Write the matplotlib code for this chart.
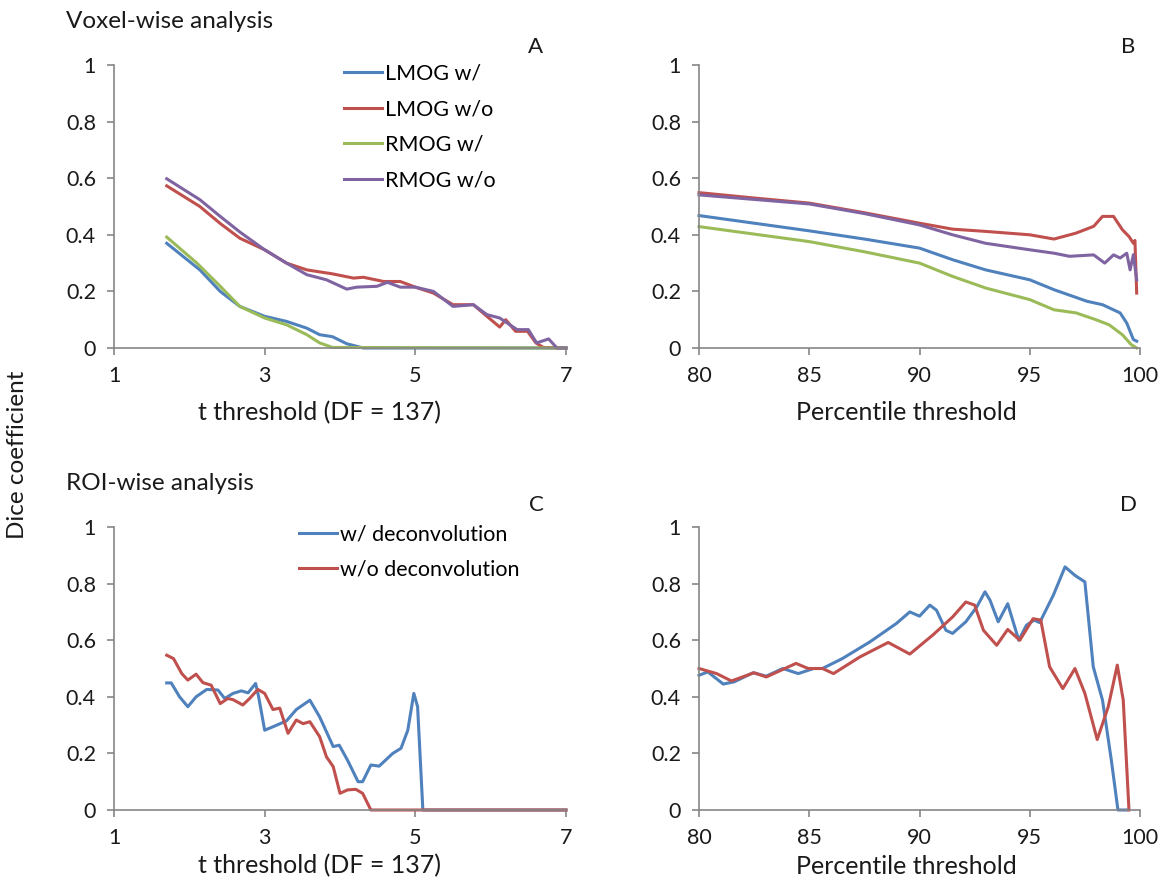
import matplotlib
matplotlib.use('Agg')
import matplotlib.pyplot as plt

plt.rcParams['font.family'] = ['Lato', 'DejaVu Sans']

# Panel A: voxel-wise, t threshold
lmog_w_t = [1.70, 2.14, 2.41, 2.67, 3.0, 3.29, 3.56, 3.73, 3.9, 4.09, 4.31, 7.0]
lmog_w = [0.37, 0.276, 0.2, 0.147, 0.112, 0.094, 0.07, 0.047, 0.04, 0.015, 0.0, 0.0]
lmog_wo_t = [1.70, 2.14, 2.41, 2.67, 3.0, 3.29, 3.56, 3.9, 4.18, 4.31, 4.58, 4.8, 5.0,
             5.24, 5.5, 5.77, 5.95, 6.12, 6.2, 6.33, 6.49, 6.6, 6.7, 7.0]
lmog_wo = [0.573, 0.5, 0.44, 0.388, 0.347, 0.3, 0.276, 0.262, 0.247, 0.25, 0.235, 0.235, 0.215,
           0.194, 0.153, 0.153, 0.112, 0.074, 0.1, 0.059, 0.059, 0.018, 0.002, 0.0]
rmog_w_t = [1.70, 2.1, 2.41, 2.67, 3.0, 3.29, 3.56, 3.73, 3.9, 7.0]
rmog_w = [0.392, 0.3, 0.218, 0.147, 0.106, 0.082, 0.047, 0.018, 0.002, 0.0]
rmog_wo_t = [1.70, 2.14, 2.41, 2.67, 3.0, 3.29, 3.56, 3.82, 4.09, 4.22, 4.49, 4.63, 4.8, 5.0,
             5.24, 5.5, 5.77, 5.95, 6.12, 6.35, 6.5, 6.61, 6.77, 6.88, 7.0]
rmog_wo = [0.598, 0.524, 0.465, 0.41, 0.347, 0.3, 0.259, 0.241, 0.208, 0.215, 0.218, 0.232, 0.215, 0.215,
           0.2, 0.147, 0.153, 0.118, 0.106, 0.065, 0.065, 0.018, 0.032, 0.0, 0.0]

# Panel B: voxel-wise, percentile threshold
lmog_w_p = [80, 85, 87.5, 90, 91.5, 93, 95, 96.1, 97.6, 98.3, 99.1, 99.4, 99.7, 99.85]
lmog_w_b = [0.468, 0.414, 0.385, 0.353, 0.312, 0.276, 0.241, 0.206, 0.165, 0.153, 0.124, 0.088, 0.03, 0.024]
lmog_wo_p = [80, 82.5, 85, 87.5, 90, 91.5, 93, 95, 96.1, 97.1, 97.9, 98.3, 98.8, 99.2, 99.5, 99.7, 99.77, 99.85]
lmog_wo_b = [0.549, 0.53, 0.512, 0.478, 0.441, 0.42, 0.412, 0.4, 0.385, 0.406, 0.43, 0.465, 0.465,
             0.418, 0.394, 0.37, 0.38, 0.194]
rmog_w_p = [80, 85, 87.5, 90, 91.5, 93, 95, 96.1, 97.1, 98.0, 98.6, 99.2, 99.6, 99.85]
rmog_w_b = [0.429, 0.376, 0.34, 0.3, 0.253, 0.212, 0.171, 0.135, 0.124, 0.1, 0.082, 0.047, 0.012, 0.0]
rmog_wo_p = [80, 85, 87.5, 90, 91.5, 93, 95, 96.1, 96.8, 97.9, 98.4, 98.8, 99.1, 99.4, 99.55, 99.7, 99.85]
rmog_wo_b = [0.541, 0.509, 0.475, 0.435, 0.4, 0.37, 0.347, 0.335, 0.324, 0.329, 0.3, 0.329, 0.318,
             0.335, 0.276, 0.33, 0.241]

# Panel C: ROI-wise, t threshold
dec_t = [1.70, 1.76, 1.87, 1.98, 2.09, 2.23, 2.38, 2.47, 2.58, 2.69, 2.78, 2.88, 2.92, 3.0, 3.11,
         3.29, 3.42, 3.6, 3.73, 3.91, 3.99, 4.1, 4.24, 4.3, 4.41, 4.52, 4.7, 4.81, 4.9, 4.98, 5.03, 5.1, 7.0]
dec_c = [0.449, 0.449, 0.4, 0.365, 0.4, 0.426, 0.424, 0.394, 0.412, 0.421, 0.414, 0.447, 0.4, 0.282, 0.294,
         0.315, 0.355, 0.388, 0.329, 0.224, 0.229, 0.176, 0.1, 0.1, 0.159, 0.155, 0.2, 0.218, 0.282, 0.412,
         0.365, 0.0, 0.0]
nodec_t = [1.70, 1.79, 1.90, 1.98, 2.09, 2.18, 2.29, 2.41, 2.51, 2.58, 2.71, 2.80, 2.91, 3.0, 3.11,
           3.2, 3.31, 3.42, 3.51, 3.6, 3.73, 3.82, 3.91, 4.0, 4.1, 4.21, 4.3, 4.41, 7.0]
nodec_c = [0.547, 0.535, 0.482, 0.459, 0.48, 0.45, 0.441, 0.376, 0.394, 0.39, 0.371, 0.394, 0.426, 0.412,
           0.355, 0.36, 0.271, 0.318, 0.305, 0.312, 0.259, 0.188, 0.153, 0.059, 0.071, 0.073, 0.059, 0.0, 0.0]

# Panel D: ROI-wise, percentile threshold
dec_p = [80, 80.4, 81.1, 81.6, 82.45, 83.05, 83.8, 84.5, 85.2, 85.6, 86.5, 87.75, 88.95, 89.56, 90.0,
         90.47, 90.77, 91.2, 91.5, 92.1, 92.6, 92.97, 93.2, 93.57, 94.0, 94.5, 94.85, 95.2, 95.45, 96.07,
         96.6, 97.05, 97.5, 97.88, 98.3, 98.7, 99.0, 99.4]
dec_d = [0.476, 0.488, 0.445, 0.453, 0.485, 0.473, 0.5, 0.482, 0.5, 0.5, 0.535, 0.594, 0.659, 0.7, 0.685,
         0.724, 0.706, 0.635, 0.624, 0.665, 0.718, 0.771, 0.741, 0.665, 0.729, 0.6, 0.653, 0.671, 0.662,
         0.759, 0.859, 0.829, 0.806, 0.506, 0.388, 0.176, 0.0, 0.0]
nodec_p = [80, 80.8, 81.47, 82.5, 83.05, 84.4, 84.95, 85.6, 86.1, 87.3, 88.58, 89.56, 90.6, 91.5, 92.1,
           92.5, 92.9, 93.5, 94.0, 94.55, 95.15, 95.5, 95.9, 96.5, 97.05, 97.5, 98.06, 98.56, 98.97, 99.24, 99.5]
nodec_d = [0.5, 0.482, 0.456, 0.485, 0.47, 0.518, 0.5, 0.5, 0.482, 0.541, 0.592, 0.551, 0.618, 0.682,
           0.735, 0.724, 0.635, 0.582, 0.638, 0.6, 0.676, 0.671, 0.506, 0.429, 0.5, 0.412, 0.249, 0.365,
           0.512, 0.388, 0.0]

yticks = [0, 0.2, 0.4, 0.6, 0.8, 1]
ytick_labels = ['0', '0.2', '0.4', '0.6', '0.8', '1']
t_ticks = [1, 3, 5, 7]
p_ticks = [80, 85, 90, 95, 100]

blue = '#4F81BD'
red = '#C0504D'
green = '#9BBB59'
purple = '#8064A2'
gray = '#868686'

W, H = 1159, 888
fig = plt.figure(figsize=(W / 100, H / 100), dpi=100)


def box(left, top, right, bottom):
    return [left / W, 1 - bottom / H, (right - left) / W, (bottom - top) / H]


def style(ax, xlim, xticks):
    ax.set_xlim(*xlim)
    ax.set_ylim(0, 1)
    ax.set_xticks(xticks)
    ax.set_yticks(yticks)
    ax.set_yticklabels(ytick_labels)
    for s in ['top', 'right']:
        ax.spines[s].set_visible(False)
    for s in ['left', 'bottom']:
        ax.spines[s].set_color(gray)
        ax.spines[s].set_linewidth(1.2)
    ax.tick_params(direction='out', length=5, width=1.2, color=gray, labelsize=15.5,
                   labelcolor='#1a1a1a', pad=8)


lw = 2.2

axA = fig.add_axes(box(114, 65, 566, 348))
axA.plot(lmog_w_t, lmog_w, color=blue, lw=lw, label='LMOG w/', clip_on=False)
axA.plot(lmog_wo_t, lmog_wo, color=red, lw=lw, label='LMOG w/o', clip_on=False)
axA.plot(rmog_w_t, rmog_w, color=green, lw=lw, label='RMOG w/', clip_on=False)
axA.plot(rmog_wo_t, rmog_wo, color=purple, lw=lw, label='RMOG w/o', clip_on=False)
style(axA, (1, 7), t_ticks)
axA.legend(loc='upper left', bbox_to_anchor=(0.49, 1.035), frameon=False, fontsize=15.5,
           handlelength=1.75, handletextpad=0.15, labelspacing=0.72, borderaxespad=0)

axB = fig.add_axes(box(699, 65, 1140, 348))
axB.plot(lmog_w_p, lmog_w_b, color=blue, lw=lw, clip_on=False)
axB.plot(lmog_wo_p, lmog_wo_b, color=red, lw=lw, clip_on=False)
axB.plot(rmog_w_p, rmog_w_b, color=green, lw=lw, clip_on=False)
axB.plot(rmog_wo_p, rmog_wo_b, color=purple, lw=lw, clip_on=False)
style(axB, (80, 100), p_ticks)

axC = fig.add_axes(box(114, 527, 566, 810))
axC.plot(dec_t, dec_c, color=blue, lw=lw, label='w/ deconvolution', clip_on=False)
axC.plot(nodec_t, nodec_c, color=red, lw=lw, label='w/o deconvolution', clip_on=False)
style(axC, (1, 7), t_ticks)
axC.legend(loc='upper left', bbox_to_anchor=(0.39, 1.04), frameon=False, fontsize=15.5,
           handlelength=1.75, handletextpad=0.15, labelspacing=0.72, borderaxespad=0)

axD = fig.add_axes(box(699, 527, 1140, 810))
axD.plot(dec_p, dec_d, color=blue, lw=lw, clip_on=False)
axD.plot(nodec_p, nodec_d, color=red, lw=lw, clip_on=False)
style(axD, (80, 100), p_ticks)


def label(px, py, s, **kw):
    fig.text(px / W, 1 - py / H, s, color='#1a1a1a', **kw)


label(66, 22, 'Voxel-wise analysis', fontsize=17.5, va='center', ha='left')
label(66, 483, 'ROI-wise analysis', fontsize=17.5, va='center', ha='left')
label(18, 455, 'Dice coefficient', fontsize=17.5, va='center', ha='center', rotation=90)
label(320, 413, 't threshold (DF = 137)', fontsize=18, va='center', ha='center')
label(906, 413, 'Percentile threshold', fontsize=18, va='center', ha='center')
label(320, 866, 't threshold (DF = 137)', fontsize=18, va='center', ha='center')
label(906, 866, 'Percentile threshold', fontsize=18, va='center', ha='center')
label(536, 47, 'A', fontsize=16, va='center', ha='center')
label(1128, 47, 'B', fontsize=16, va='center', ha='center')
label(536, 505, 'C', fontsize=16, va='center', ha='center')
label(1128, 505, 'D', fontsize=16, va='center', ha='center')

fig.savefig('out.png', dpi=100)
